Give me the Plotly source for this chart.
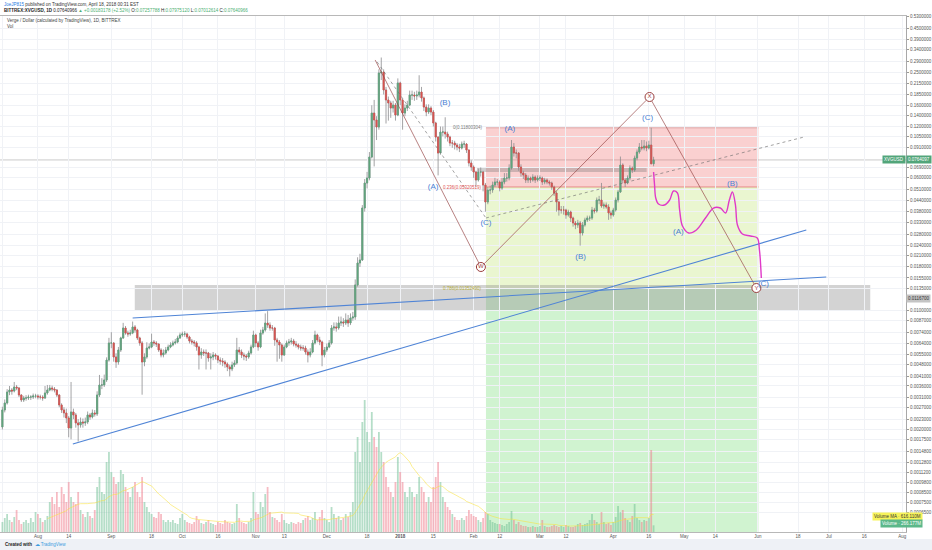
import numpy as np
import pandas as pd
import plotly.graph_objects as go

# ---------------- data ----------------
start_date = "2017-07-17"
first_open = 0.00207

closes = [
    0.002603, 0.002861, 0.003319, 0.003410, 0.003364, 0.003551, 0.003503, 0.003187, 0.002979, 0.003061,
    0.003061, 0.003102, 0.003102, 0.003145, 0.003145, 0.003102, 0.003102, 0.003061, 0.003275, 0.003410,
    0.003503, 0.003456, 0.003410, 0.003187, 0.002785, 0.002603, 0.002500, 0.002336, 0.002040, 0.002534,
    0.002433, 0.002184, 0.002126, 0.002213, 0.002184, 0.002213, 0.002433, 0.002368, 0.002500, 0.002466,
    0.003187, 0.003649, 0.003649, 0.003904, 0.005115, 0.006437, 0.006437, 0.005327, 0.004978, 0.005855,
    0.006887, 0.007883, 0.007368, 0.007269, 0.007368, 0.007991, 0.007673, 0.006887, 0.006437, 0.004978,
    0.005327, 0.006015, 0.006097, 0.006524, 0.006437, 0.006350, 0.005855, 0.005473, 0.005623, 0.005855,
    0.006097, 0.006265, 0.006437, 0.006524, 0.006887, 0.007172, 0.007269, 0.007269, 0.006981, 0.006613,
    0.006524, 0.006437, 0.006097, 0.005473, 0.005699, 0.005623, 0.005623, 0.005255, 0.005327, 0.005473,
    0.005399, 0.005115, 0.005046, 0.004978, 0.004846, 0.004654, 0.004530, 0.004781, 0.004912, 0.005855,
    0.005699, 0.005473, 0.005399, 0.005327, 0.005623, 0.006097, 0.007172, 0.006437, 0.006097, 0.007368,
    0.007673, 0.008434, 0.008209, 0.007883, 0.007883, 0.006703, 0.006524, 0.006265, 0.005473, 0.006097,
    0.006437, 0.006524, 0.006613, 0.006350, 0.006265, 0.006097, 0.006015, 0.006015, 0.005699, 0.005473,
    0.005699, 0.006437, 0.007172, 0.006703, 0.006524, 0.005473, 0.005855, 0.006097, 0.006437, 0.007883,
    0.007991, 0.007883, 0.008434, 0.008549, 0.008434, 0.008783, 0.008434, 0.009024, 0.009147, 0.01410,
    0.01898, 0.01976, 0.03990, 0.05593, 0.05984, 0.07948, 0.1440, 0.1311, 0.1192, 0.2475,
    0.2508, 0.1966, 0.1718, 0.1650, 0.1541, 0.1605, 0.1402, 0.2162, 0.1718, 0.1440,
    0.1541, 0.1605, 0.1838, 0.1838, 0.1813, 0.1838, 0.1914, 0.1765, 0.1562, 0.1460,
    0.1541, 0.1460, 0.1259, 0.1041, 0.08390, 0.1114, 0.1114, 0.1085, 0.1041, 0.09603,
    0.09603, 0.09347, 0.09097, 0.08976, 0.09474, 0.09474, 0.08737, 0.07329, 0.06943, 0.06489,
    0.05824, 0.06489, 0.06489, 0.05444, 0.04327, 0.05088, 0.05088, 0.05444, 0.05669, 0.05669,
    0.05227, 0.05669, 0.05984, 0.05984, 0.06850, 0.09097, 0.08390, 0.08390, 0.06943, 0.06402,
    0.06232, 0.05824, 0.05984, 0.05824, 0.06065, 0.05824, 0.05984, 0.05984, 0.05669, 0.05824,
    0.05669, 0.05593, 0.05299, 0.04886, 0.04327, 0.03884, 0.03884, 0.03884, 0.03630, 0.03780,
    0.03486, 0.03258, 0.03171, 0.03258, 0.02846, 0.03171, 0.03393, 0.03486, 0.03486, 0.03884,
    0.03832, 0.04446, 0.04446, 0.04100, 0.04156, 0.04045, 0.03730, 0.03630, 0.03884, 0.04446,
    0.04952, 0.07133, 0.05824, 0.05593, 0.05984, 0.06850, 0.06667, 0.07841, 0.08504, 0.09097,
    0.08976, 0.09221, 0.08976, 0.09347, 0.07258, 0.07641,
]

highs = [
    .00272, .00300, .00345, .00360, .00350, .00380, .00365, .00355, .00322, .00315,
    .00318, .00320, .00318, .00325, .00324, .00322, .00320, .00318, .00360, .00365,
    .00365, .00362, .00355, .00345, .00322, .00285, .00270, .00265, .00240, .00380,
    .00265, .00250, .00230, .00235, .00232, .00235, .00255, .00250, .00262, .00260,
    .00335, .00418, .00400, .00420, .00530, .00690, .00745, .00650, .00560, .00610,
    .00700, .00845, .00810, .00760, .00770, .00860, .00820, .00780, .00700, .00660,
    .00560, .00650, .00640, .00730, .00670, .00660, .00640, .00600, .00590, .00610,
    .00630, .00650, .00665, .00680, .00710, .00740, .00750, .00755, .00740, .00710,
    .00680, .00670, .00660, .00620, .00600, .00590, .00590, .00570, .00560, .00570,
    .00560, .00545, .00530, .00525, .00510, .00495, .00480, .00500, .00510, .00690,
    .00610, .00590, .00565, .00555, .00580, .00630, .00760, .00730, .00660, .00770,
    .00800, .00960, .00990, .00850, .00820, .00800, .00690, .00670, .00640, .00630,
    .00665, .00680, .00690, .00680, .00660, .00640, .00630, .00625, .00620, .00590,
    .00600, .00670, .00760, .00730, .00700, .00665, .00610, .00640, .00670, .00820,
    .00850, .00850, .00920, .00920, .00900, .00960, .00940, .00960, .00980, .01520,
    .0205, .0215, .0415, .0590, .0650, .0850, .160, .172, .138, .260,
    .305, .260, .205, .180, .170, .170, .165, .230, .220, .175,
    .162, .170, .195, .195, .192, .195, .240, .205, .180, .162,
    .162, .158, .150, .128, .105, .120, .120, .136, .112, .106,
    .100, .099, .096, .095, .098, .099, .096, .088, .076, .071,
    .066, .068, .069, .066, .056, .053, .054, .057, .060, .059,
    .058, .060, .064, .064, .072, .100, .096, .088, .085, .072,
    .066, .064, .062, .061, .063, .062, .062, .062, .061, .060,
    .0595, .058, .057, .054, .050, .044, .041, .041, .0395, .039,
    .0385, .0355, .0335, .034, .0335, .033, .035, .036, .036, .0405,
    .040, .046, .047, .056, .043, .043, .042, .0385, .040, .046,
    .051, .080, .073, .060, .062, .071, .070, .081, .088, .096,
    .100, .100, .098, .099, .118, .07975,
]

lows = [
    .00200, .00252, .00280, .00318, .00320, .00330, .00340, .00310, .00290, .00290,
    .00295, .00298, .00298, .00302, .00305, .00300, .00300, .00295, .00302, .00320,
    .00335, .00335, .00330, .00310, .00270, .00250, .00235, .00218, .00180, .00175,
    .00230, .00205, .00170, .00205, .00205, .00210, .00215, .00228, .00232, .00238,
    .00240, .00310, .00345, .00355, .00380, .00500, .00600, .00500, .00460, .00480,
    .00570, .00680, .00720, .00700, .00710, .00725, .00740, .00670, .00620, .00320,
    .00470, .00520, .00590, .00600, .00620, .00610, .00570, .00530, .00530, .00550,
    .00575, .00600, .00615, .00630, .00640, .00680, .00700, .00700, .00680, .00640,
    .00630, .00615, .00580, .00450, .00520, .00540, .00450, .00500, .00450, .00510,
    .00515, .00490, .00480, .00470, .00460, .00440, .00410, .00440, .00465, .00480,
    .00550, .00525, .00510, .00505, .00520, .00550, .00600, .00610, .00580, .00600,
    .00720, .00750, .00790, .00760, .00760, .00620, .00500, .00520, .00500, .00540,
    .00600, .00620, .00630, .00615, .00605, .00590, .00580, .00580, .00550, .00495,
    .00530, .00560, .00630, .00650, .00625, .00470, .00530, .00570, .00600, .00630,
    .00760, .00750, .00770, .00810, .00800, .00820, .00800, .00820, .00870, .00880,
    .0138, .0180, .0195, .0380, .0520, .0580, .0780, .0700, .1000, .1150,
    .225, .185, .125, .130, .135, .145, .130, .138, .160, .115,
    .138, .148, .158, .172, .170, .172, .178, .168, .148, .138,
    .142, .140, .120, .098, .062, .082, .105, .102, .098, .092,
    .090, .088, .087, .085, .088, .090, .084, .070, .066, .060,
    .053, .057, .061, .050, .038, .042, .048, .049, .053, .054,
    .050, .051, .055, .057, .058, .067, .080, .078, .066, .061,
    .059, .056, .056, .056, .057, .056, .057, .0575, .0545, .055,
    .055, .054, .051, .047, .038, .036, .037, .0365, .0345, .0355,
    .033, .031, .030, .0305, .024, .0275, .031, .033, .0335, .034,
    .037, .0375, .042, .040, .0395, .0395, .034, .0345, .0355, .038,
    .043, .049, .056, .053, .055, .058, .064, .065, .076, .083,
    .087, .087, .086, .088, .072, .07012,
]

volumes_m = [
    400, 560, 720, 480, 400, 600, 880, 480, 320, 400, 480, 360, 560, 400, 800,
    720, 560, 400, 480, 640, 1200, 1400, 1120, 1600, 1000, 1800, 1520, 1200, 2000, 1400,
    1200, 1120, 1600, 880, 720, 600, 800, 640, 560, 880,
    1800, 2200, 1600, 1520, 2800, 3200, 2400, 2200, 1920, 2000, 2480, 2320, 1800, 1600, 1400, 1800, 2000, 1600, 1400,
    2200,
    1200, 1000, 800, 720, 600, 560, 800, 720, 480, 400, 480,
    400, 480, 360, 320, 560, 720, 480, 400, 360, 320, 400, 640, 480, 360, 320, 400, 480, 360, 320, 280,
    400, 360, 320, 480, 400, 360, 320, 360, 1120, 560, 400, 360, 320, 400, 560,
    1600, 800, 720, 1200, 1000, 1520, 1800, 800, 600,
    560, 480, 400, 720, 480, 360, 320, 400, 360, 320, 400, 360, 480, 560, 640, 480, 560, 800, 480, 600,
    880, 560, 480, 400, 1000, 720, 560, 640, 480, 560, 720, 600, 800, 1200,
    3200, 3800, 2800, 4400, 5280, 4000, 3600, 4800, 3800, 3400, 4000, 3200,
    2800, 2200, 1800, 1600, 1400, 2000, 3000, 2400, 2000, 1600, 1400, 1800, 1600, 1400, 1520, 2200,
    1800, 1600, 1200, 1400, 1200, 1800, 2200, 2800,
    2000, 1400, 1200, 1000, 880, 720, 600, 480, 480, 560, 480, 640, 880, 720, 640, 600, 480, 400, 560,
    800, 720, 480, 400, 360, 320, 320, 280, 240, 320, 400,
    840, 480, 320, 400, 280, 240, 240, 200, 200, 240, 200, 200, 240,
    480, 240, 200, 200, 240, 280, 240, 200, 240, 200, 280, 240, 200, 200, 240, 320, 360, 280,
    320, 360, 480, 720,
    480, 400, 320, 800, 400, 320, 360, 280, 400, 600, 1040, 800, 880, 560, 480, 400, 640, 1120, 560, 480,
    400, 480, 440, 560, 3280, 266,
]

price_ticks = [0.53, 0.45, 0.39, 0.34, 0.29, 0.25, 0.215, 0.185, 0.16, 0.14, 0.12, 0.105, 0.091,
               0.069, 0.06, 0.051, 0.044, 0.038, 0.033, 0.028, 0.024, 0.021, 0.018, 0.0155, 0.0135,
               0.0100, 0.0087, 0.0074, 0.0064, 0.0055, 0.0048, 0.0041, 0.0036, 0.0031, 0.0027,
               0.0023, 0.0020, 0.00175, 0.00148, 0.00128, 0.00112, 0.00098, 0.00085, 0.00075, 0.00065]

time_tick_dates = ["2017-07-17", "2017-08-01", "2017-08-14", "2017-09-01", "2017-09-18", "2017-10-01",
                   "2017-10-16", "2017-11-01", "2017-11-13", "2017-12-01", "2017-12-18", "2018-01-01",
                   "2018-01-15", "2018-02-01", "2018-02-12", "2018-03-01", "2018-03-12", "2018-04-01",
                   "2018-04-16", "2018-05-01", "2018-05-14", "2018-06-01", "2018-06-18", "2018-07-01",
                   "2018-07-16", "2018-08-01"]
time_tick_text = ["17", "Aug", "14", "Sep", "18", "Oct", "16", "Nov", "13", "Dec", "18", "<b>2018</b>",
                  "15", "Feb", "12", "Mar", "12", "Apr", "16", "May", "14", "Jun", "18", "Jul", "16", "Aug"]

x_range = ["2017-07-15 23:44", "2018-08-02 14:24"]
price_range = [0.0005003, 0.5346]

# drawings (dates, prices)
fib_zone_dates = ["2018-02-06 05:00", "2018-06-01 07:00"]
fib_levels = [0.1180, 0.0530, 0.01353, 0.0005]
fib_label_date = "2018-02-05 10:00"
fib_label_text = ["0(0.11800304)", "0.236(0.05320519)", "0.786(0.01352490)"]
grey_box_dates = ["2017-09-10 22:00", "2018-07-18 12:00"]
grey_box_prices = [0.00992, 0.01409]
grey_box_tag = 0.01167
grey_strip_dates = ["2018-02-02 10:00", "2018-04-15 02:00"]
grey_strip_prices = [0.0649, 0.0695]
last_price = 0.07641

blue_line_1_dates = ["2017-09-10 00:00", "2018-06-29 22:00"]
blue_line_1_prices = [0.009023, 0.01570]
blue_line_2_dates = ["2017-08-15 18:00", "2018-06-21 12:00"]
blue_line_2_prices = [0.001643, 0.02964]

wave_dates = ["2017-12-21 10:00", "2018-02-04 02:00", "2018-04-16 07:00", "2018-05-31 10:00"]
wave_prices = [0.2950, 0.01798, 0.1789, 0.01353]
wave_marks = ["W", "X", "Y"]

dotted_1_dates = ["2017-12-22 07:00", "2018-02-06 05:00"]
dotted_1_prices = [0.2871, 0.03485]
dotted_2_dates = ["2018-02-06 05:00", "2018-06-20 14:00"]
dotted_2_prices = [0.03485, 0.1042]

abc_dates = ["2018-01-19 22:00", "2018-01-14 22:00", "2018-02-06 05:00", "2018-02-16 07:00",
             "2018-03-18 05:00", "2018-04-15 12:00", "2018-05-21 07:00", "2018-04-28 12:00",
             "2018-06-03 10:00"]
abc_prices = [0.1650, 0.0530, 0.03258, 0.1161, 0.02057, 0.1347, 0.05518, 0.02885, 0.01428]
abc_text = ["(B)", "(A)", "(C)", "(A)", "(B)", "(C)", "(B)", "(A)", "(C)"]

path_dates = ["2018-04-18 00:00", "2018-04-18 10:00", "2018-04-18 22:00", "2018-04-20 02:00",
              "2018-04-22 14:00", "2018-04-24 19:00", "2018-04-26 10:00", "2018-04-28 02:00",
              "2018-04-29 00:00", "2018-04-30 05:00", "2018-05-02 19:00", "2018-05-06 02:00",
              "2018-05-09 22:00", "2018-05-13 07:00", "2018-05-16 05:00", "2018-05-18 10:00",
              "2018-05-20 00:00", "2018-05-21 07:00", "2018-05-22 14:00", "2018-05-23 10:00",
              "2018-05-25 12:00", "2018-05-28 22:00", "2018-05-31 19:00", "2018-06-01 17:00",
              "2018-06-02 12:00"]
path_prices = [0.0649, 0.05445, 0.04567, 0.04211, 0.04154, 0.04446, 0.05020, 0.04887, 0.03884,
               0.03128, 0.02846, 0.02964, 0.03485, 0.03990, 0.03990, 0.03730, 0.04446, 0.04955,
               0.04154, 0.03171, 0.02807, 0.02733, 0.02660, 0.02262, 0.01549]

# ---------------- build figure ----------------
dates = pd.date_range(start_date, periods=len(closes), freq="D")
opens = [first_open] + closes[:-1]
body_hi = [max(o, c) for o, c in zip(opens, closes)]
body_lo = [min(o, c) for o, c in zip(opens, closes)]
up = [c >= o for o, c in zip(opens, closes)]

UP, DOWN = "#5fa67d", "#d9534f"
VOL_UP, VOL_DOWN = "rgba(107,190,145,0.50)", "rgba(240,120,135,0.50)"
BLUE = "#4f84d6"

fig = go.Figure()

# volume (base y axis, hidden)
fig.add_trace(go.Bar(x=dates, y=volumes_m, marker_color=[VOL_UP if u else VOL_DOWN for u in up],
                     marker_line_width=0, width=0.75 * 86400000, yaxis="y", hoverinfo="skip"))
vol_ma = pd.Series(volumes_m).rolling(20).mean()
fig.add_trace(go.Scatter(x=dates, y=vol_ma, mode="lines", yaxis="y",
                         line=dict(color="rgba(250,225,60,0.55)", width=1), hoverinfo="skip"))

# candles: wicks (grey) then bodies
grey = "#8c8c8e"
fig.add_trace(go.Candlestick(x=dates, open=opens, high=highs, low=lows, close=closes, yaxis="y2",
                             increasing=dict(line=dict(color=grey, width=0.8), fillcolor=grey),
                             decreasing=dict(line=dict(color=grey, width=0.8), fillcolor=grey),
                             whiskerwidth=0, hoverinfo="skip"))
fig.add_trace(go.Candlestick(x=dates, open=opens, high=body_hi, low=body_lo, close=closes, yaxis="y2",
                             increasing=dict(line=dict(color=UP, width=0.6), fillcolor=UP),
                             decreasing=dict(line=dict(color=DOWN, width=0.6), fillcolor=DOWN),
                             whiskerwidth=0, hoverinfo="skip"))

def line(xs, ys, color, width=1.0, dash="solid", shape="linear"):
    fig.add_trace(go.Scatter(x=xs, y=ys, mode="lines", yaxis="y2", hoverinfo="skip",
                             line=dict(color=color, width=width, dash=dash, shape=shape)))

line(blue_line_1_dates, blue_line_1_prices, BLUE, 1.1)
line(blue_line_2_dates, blue_line_2_prices, BLUE, 1.1)
line(dotted_1_dates, dotted_1_prices, "rgba(110,110,110,0.8)", 0.8, "dot")
line(dotted_2_dates, dotted_2_prices, "rgba(110,110,110,0.8)", 0.8, "dot")
line(wave_dates, wave_prices, "rgba(150,70,70,0.85)", 0.8)
line(path_dates, path_prices, "#e03ac8", 1.4, shape="spline")

fig.add_trace(go.Scatter(x=wave_dates[1:], y=wave_prices[1:], mode="markers+text", yaxis="y2",
                         text=wave_marks, textposition="middle center", hoverinfo="skip",
                         textfont=dict(color="#9a3c3c", size=6, family="Liberation Sans"),
                         marker=dict(size=9, color="white", line=dict(color="#9a3c3c", width=1))))
fig.add_trace(go.Scatter(x=abc_dates, y=abc_prices, mode="text", text=abc_text, yaxis="y2",
                         textfont=dict(color="#4a7fd4", size=8, family="Liberation Sans"),
                         hoverinfo="skip"))

shapes = []
zone_colors = ["rgba(240,100,100,0.30)", "rgba(195,228,120,0.35)", "rgba(120,220,120,0.35)"]
for i, col in enumerate(zone_colors):
    shapes.append(dict(type="rect", xref="x", yref="y2", x0=fib_zone_dates[0], x1=fib_zone_dates[1],
                       y0=fib_levels[i + 1], y1=fib_levels[i], fillcolor=col, line_width=0, layer="below"))
shapes.append(dict(type="line", xref="x", yref="y2", x0=fib_zone_dates[0], x1=fib_zone_dates[1],
                   y0=fib_levels[0], y1=fib_levels[0], line=dict(color="rgba(200,110,110,0.7)", width=0.8),
                   layer="below"))
shapes.append(dict(type="line", xref="x", yref="y2", x0=fib_zone_dates[0], x1=fib_zone_dates[1],
                   y0=fib_levels[1], y1=fib_levels[1], line=dict(color="rgba(220,90,90,0.8)", width=0.8),
                   layer="below"))
shapes.append(dict(type="rect", xref="x", yref="y2", x0=grey_box_dates[0], x1=grey_box_dates[1],
                   y0=grey_box_prices[0], y1=grey_box_prices[1], fillcolor="rgba(140,140,140,0.38)",
                   line_width=0, layer="below"))
shapes.append(dict(type="rect", xref="x", yref="y2", x0=grey_strip_dates[0], x1=grey_strip_dates[1],
                   y0=grey_strip_prices[0], y1=grey_strip_prices[1], fillcolor="rgba(120,120,120,0.35)",
                   line_width=0, layer="below"))
shapes.append(dict(type="line", xref="paper", yref="y2", x0=0, x1=1, y0=last_price, y1=last_price,
                   line=dict(color="rgba(130,130,130,0.55)", width=0.8), layer="below"))
# footer band
shapes.append(dict(type="rect", xref="paper", yref="paper", x0=-0.01, x1=1.03, y0=-0.036, y1=-0.0136,
                   fillcolor="#eef1f6", line_width=0, layer="below"))

F = "Liberation Sans"
ann = []
for lvl, txt, col in zip(fib_levels[:3], fib_label_text, ["#7a7a7a", "#e05252", "#b5ad3a"]):
    ann.append(dict(x=fib_label_date, y=np.log10(lvl), xref="x", yref="y2", text=txt, showarrow=False,
                    xanchor="right", yanchor="middle", font=dict(size=4.5, color=col, family=F)))

G = "#4caf73"
ann += [
    dict(x=0.002, y=1.0225, xref="paper", yref="paper", xanchor="left", yanchor="middle", showarrow=False,
         text='<span style="color:#2a7ae2">JoeJP815</span> published on TradingView.com, April 18, 2018 00:31 EST',
         font=dict(size=4.5, color="#333", family=F)),
    dict(x=0.002, y=1.0115, xref="paper", yref="paper", xanchor="left", yanchor="middle", showarrow=False,
         text=('<b>BITTREX:XVGUSD, 1D</b> 0.07640966 <span style="color:%s">▲ +0.00183178 (+2.52%%)</span> '
               'O:<span style="color:%s">0.07257788</span> H:<span style="color:%s">0.07975120</span> '
               'L:<span style="color:%s">0.07012614</span> C:<span style="color:%s">0.07640966</span>') % ((G,) * 5),
         font=dict(size=4.5, color="#222", family=F)),
    dict(x=0.005, y=0.9905, xref="paper", yref="paper", xanchor="left", yanchor="middle", showarrow=False,
         text="Verge / Dollar (calculated by TradingView), 1D, BITTREX", font=dict(size=4.5, color="#444", family=F)),
    dict(x=0.005, y=0.979, xref="paper", yref="paper", xanchor="left", yanchor="middle", showarrow=False,
         text="Vol", font=dict(size=4.5, color="#444", family=F)),
    dict(x=1.0, y=np.log10(last_price), xref="paper", yref="y2", xanchor="left", yanchor="middle",
         showarrow=False, text="0.0764097", bgcolor="#52a57a", borderpad=1,
         font=dict(size=4.5, color="white", family=F)),
    dict(x=0.9995, y=np.log10(last_price), xref="paper", yref="y2", xanchor="right", yanchor="middle",
         showarrow=False, text="XVGUSD", bgcolor="#52a57a", borderpad=1,
         font=dict(size=4.5, color="white", family=F)),
    dict(x=1.0, y=np.log10(grey_box_tag), xref="paper", yref="y2", xanchor="left", yanchor="middle",
         showarrow=False, text="%.7f" % grey_box_tag, bgcolor="#c4c4c4", borderpad=1,
         font=dict(size=4.5, color="#333", family=F)),
    dict(x=1.0187, y=0.031, xref="paper", yref="paper", xanchor="right", yanchor="middle", showarrow=False,
         text="Volume MA · 616.110M", bgcolor="#f7f35a", borderpad=1, font=dict(size=4.5, color="#333", family=F)),
    dict(x=1.0187, y=0.0174, xref="paper", yref="paper", xanchor="right", yanchor="middle", showarrow=False,
         text="Volume · 266.177M", bgcolor="#5cb88a", borderpad=1, font=dict(size=4.5, color="white", family=F)),
    dict(x=0.003, y=-0.0235, xref="paper", yref="paper", xanchor="left", yanchor="middle", showarrow=False,
         text='<b>Created with</b>  <span style="color:#3a9be0">☁ TradingView</span>',
         font=dict(size=4.5, color="#222", family=F)),
]

fig.update_layout(
    width=932, height=550, margin=dict(l=0, r=24, t=16, b=18, pad=0),
    paper_bgcolor="white", plot_bgcolor="white", showlegend=False,
    shapes=shapes, annotations=ann, bargap=0.2,
    xaxis=dict(type="date", range=x_range, tickvals=time_tick_dates, ticktext=time_tick_text,
               tickfont=dict(size=4.5, color="#555", family=F), ticks="", showgrid=True,
               gridcolor="#f0f2f6", gridwidth=1, showline=True, linecolor="#b8b8b8", linewidth=1,
               mirror=True, rangeslider=dict(visible=False), zeroline=False),
    yaxis=dict(range=[0, 20640], visible=False, showgrid=False, fixedrange=True),
    yaxis2=dict(type="log", range=[np.log10(price_range[0]), np.log10(price_range[1])],
                overlaying="y", side="right", tickvals=price_ticks,
                ticktext=["%.7f" % v for v in price_ticks],
                tickfont=dict(size=4.5, color="#555", family=F), ticks="outside", ticklen=2,
                tickcolor="#999", showgrid=True, gridcolor="#f0f2f6", showline=True,
                linecolor="#a8a8a8", linewidth=1, zeroline=False),
)

fig.write_html("out.html", config={"displayModeBar": False},
               post_script="document.body.style.margin='0px';document.body.style.overflow='hidden';")
